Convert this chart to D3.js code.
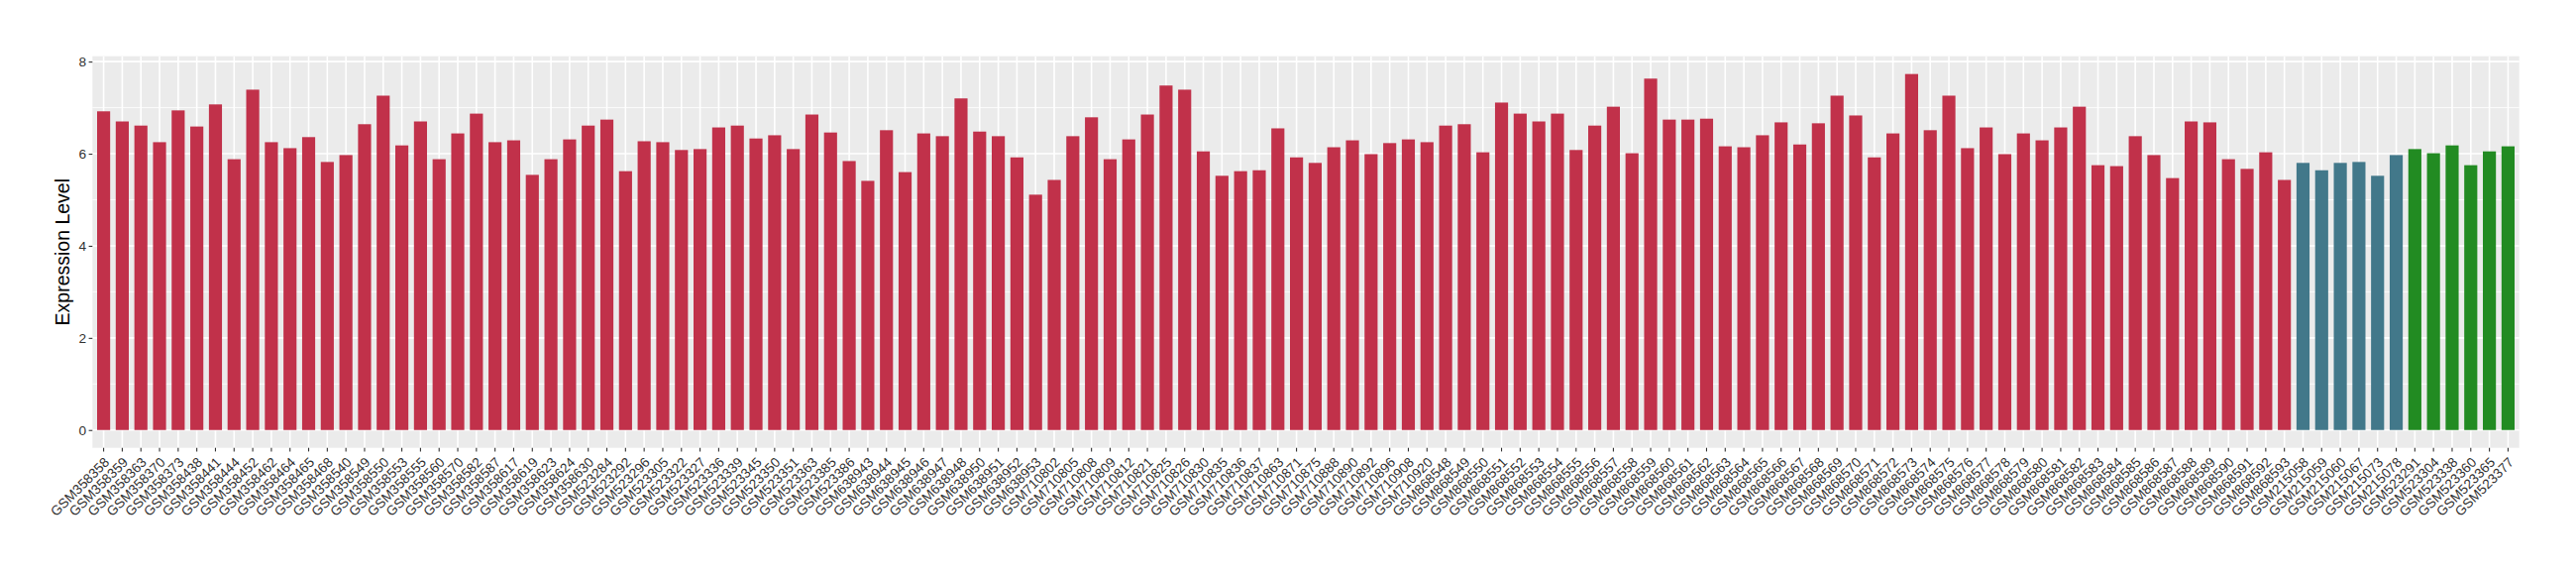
<!DOCTYPE html>
<html>
<head>
<meta charset="utf-8">
<script src="https://cdn.jsdelivr.net/npm/d3@7"></script>
<style>
  html, body { margin: 0; padding: 0; background: #ffffff; }
  svg { display: block; }
  text { font-family: "Liberation Sans", Arial, Helvetica, sans-serif; }
</style>
</head>
<body>
<script>
// ---- data ----
const samplesA = ["GSM358358","GSM358359","GSM358363","GSM358370","GSM358373","GSM358438","GSM358441","GSM358444","GSM358452","GSM358462","GSM358464","GSM358465","GSM358468","GSM358540","GSM358549","GSM358550","GSM358553","GSM358555","GSM358560","GSM358570","GSM358582","GSM358587","GSM358617","GSM358619","GSM358623","GSM358624","GSM358630","GSM523284","GSM523292","GSM523296","GSM523305","GSM523322","GSM523327","GSM523336","GSM523339","GSM523345","GSM523350","GSM523351","GSM523363","GSM523385","GSM523386","GSM638943","GSM638944","GSM638945","GSM638946","GSM638947","GSM638948","GSM638950","GSM638951","GSM638952","GSM638953","GSM710802","GSM710805","GSM710808","GSM710809","GSM710812","GSM710821","GSM710825","GSM710826","GSM710830","GSM710835","GSM710836","GSM710837","GSM710863","GSM710871","GSM710875","GSM710888","GSM710890","GSM710892","GSM710896","GSM710908","GSM710920","GSM868548","GSM868549","GSM868550","GSM868551","GSM868552","GSM868553","GSM868554","GSM868555","GSM868556","GSM868557","GSM868558","GSM868559","GSM868560","GSM868561","GSM868562","GSM868563","GSM868564","GSM868565","GSM868566","GSM868567","GSM868568","GSM868569","GSM868570","GSM868571","GSM868572","GSM868573","GSM868574","GSM868575","GSM868576","GSM868577","GSM868578","GSM868579","GSM868580","GSM868581","GSM868582","GSM868583","GSM868584","GSM868585","GSM868586","GSM868587","GSM868588","GSM868589","GSM868590","GSM868591","GSM868592","GSM868593"];
const valuesA = [6.92,6.70,6.61,6.25,6.94,6.59,7.07,5.88,7.39,6.25,6.12,6.36,5.82,5.97,6.64,7.26,6.18,6.70,5.88,6.44,6.87,6.25,6.29,5.54,5.88,6.31,6.61,6.74,5.62,6.27,6.25,6.08,6.10,6.57,6.61,6.33,6.40,6.10,6.85,6.46,5.84,5.41,6.51,5.60,6.44,6.38,7.20,6.48,6.38,5.92,5.11,5.43,6.38,6.79,5.88,6.31,6.85,7.48,7.39,6.05,5.52,5.62,5.64,6.55,5.92,5.80,6.14,6.29,5.99,6.23,6.31,6.25,6.61,6.64,6.03,7.11,6.87,6.70,6.87,6.08,6.61,7.02,6.01,7.63,6.74,6.74,6.76,6.16,6.14,6.40,6.68,6.20,6.66,7.26,6.83,5.92,6.44,7.73,6.51,7.26,6.12,6.57,5.99,6.44,6.29,6.57,7.02,5.75,5.73,6.38,5.97,5.47,6.70,6.68,5.88,5.67,6.03,5.43];
const samplesB = ["GSM215058","GSM215059","GSM215060","GSM215067","GSM215073","GSM215078"];
const valuesB = [5.80,5.64,5.80,5.82,5.52,5.97];
const samplesC = ["GSM523291","GSM523304","GSM523338","GSM523360","GSM523365","GSM523377"];
const valuesC = [6.10,6.01,6.18,5.75,6.05,6.16];
const groupColors = ["#C1314A", "#42788A", "#228B22"];
const yTicks = [0, 2, 4, 6, 8];
const yMinor = [1, 3, 5, 7];
const yTitle = "Expression Level";

// ---- build rows ----
const rows = [];
[[samplesA, valuesA], [samplesB, valuesB], [samplesC, valuesC]].forEach(([s, v], g) => {
  s.forEach((name, i) => rows.push({ name, value: v[i], group: g }));
});

// ---- layout ----
const W = 2600, H = 580;
const margin = { top: 56.7, right: 57.3, bottom: 128.3, left: 93.3 };
const pw = W - margin.left - margin.right;
const ph = H - margin.top - margin.bottom;

const svg = d3.select("body").append("svg").attr("width", W).attr("height", H);
svg.append("rect").attr("width", W).attr("height", H).attr("fill", "#ffffff");
const g = svg.append("g").attr("transform", `translate(${margin.left},${margin.top})`);

const maxV = d3.max(rows, d => d.value);
const pad = 0.05 * maxV;
const y = d3.scaleLinear().domain([-pad, maxV + pad]).range([ph, 0]);
const x = d3.scaleBand().domain(rows.map(d => d.name)).range([0, pw])
  .paddingInner(0.3).paddingOuter(0.25);

// panel
g.append("rect").attr("width", pw).attr("height", ph).attr("fill", "#EBEBEB");

// minor grid
g.selectAll(".ymin").data(yMinor).join("line")
  .attr("x1", 0).attr("x2", pw)
  .attr("y1", d => y(d)).attr("y2", d => y(d))
  .attr("stroke", "#ffffff").attr("stroke-width", 0.8);
// major grid
g.selectAll(".ymaj").data(yTicks).join("line")
  .attr("x1", 0).attr("x2", pw)
  .attr("y1", d => y(d)).attr("y2", d => y(d))
  .attr("stroke", "#ffffff").attr("stroke-width", 1.6);
g.selectAll(".xmaj").data(rows).join("line")
  .attr("x1", d => x(d.name) + x.bandwidth() / 2).attr("x2", d => x(d.name) + x.bandwidth() / 2)
  .attr("y1", 0).attr("y2", ph)
  .attr("stroke", "#ffffff").attr("stroke-width", 1.6);

// bars
g.selectAll(".bar").data(rows).join("rect")
  .attr("x", d => x(d.name))
  .attr("width", x.bandwidth())
  .attr("y", d => y(d.value))
  .attr("height", d => y(0) - y(d.value))
  .attr("fill", d => groupColors[d.group]);

// y axis
const yAxis = d3.axisLeft(y).tickValues(yTicks).tickSize(3.7).tickPadding(2.5);
const ya = g.append("g").call(yAxis);
ya.select(".domain").remove();
ya.selectAll(".tick line").attr("stroke", "#333333").attr("stroke-width", 1.1);
ya.selectAll(".tick text").attr("fill", "#333333").attr("font-size", 13.7)
  .attr("font-family", "Liberation Sans, Arial, sans-serif");

// x axis
const xAxis = d3.axisBottom(x).tickSize(3.7).tickPadding(2);
const xa = g.append("g").attr("transform", `translate(0,${ph})`).call(xAxis);
xa.select(".domain").remove();
xa.selectAll(".tick line").attr("stroke", "#333333").attr("stroke-width", 1.1);
xa.selectAll(".tick text")
  .attr("fill", "#333333").attr("font-size", 13.7)
  .attr("font-family", "Liberation Sans, Arial, sans-serif")
  .attr("text-anchor", "end")
  .attr("dy", null).attr("y", null)
  .attr("transform", "translate(6.5,15.5) rotate(-45)");

// y title
svg.append("text")
  .attr("transform", `translate(65,${margin.top + ph / 2}) rotate(-90)`)
  .attr("text-anchor", "middle")
  .attr("dominant-baseline", "middle")
  .attr("font-size", 19.5)
  .attr("fill", "#000000")
  .text(yTitle);
</script>
</body>
</html>
